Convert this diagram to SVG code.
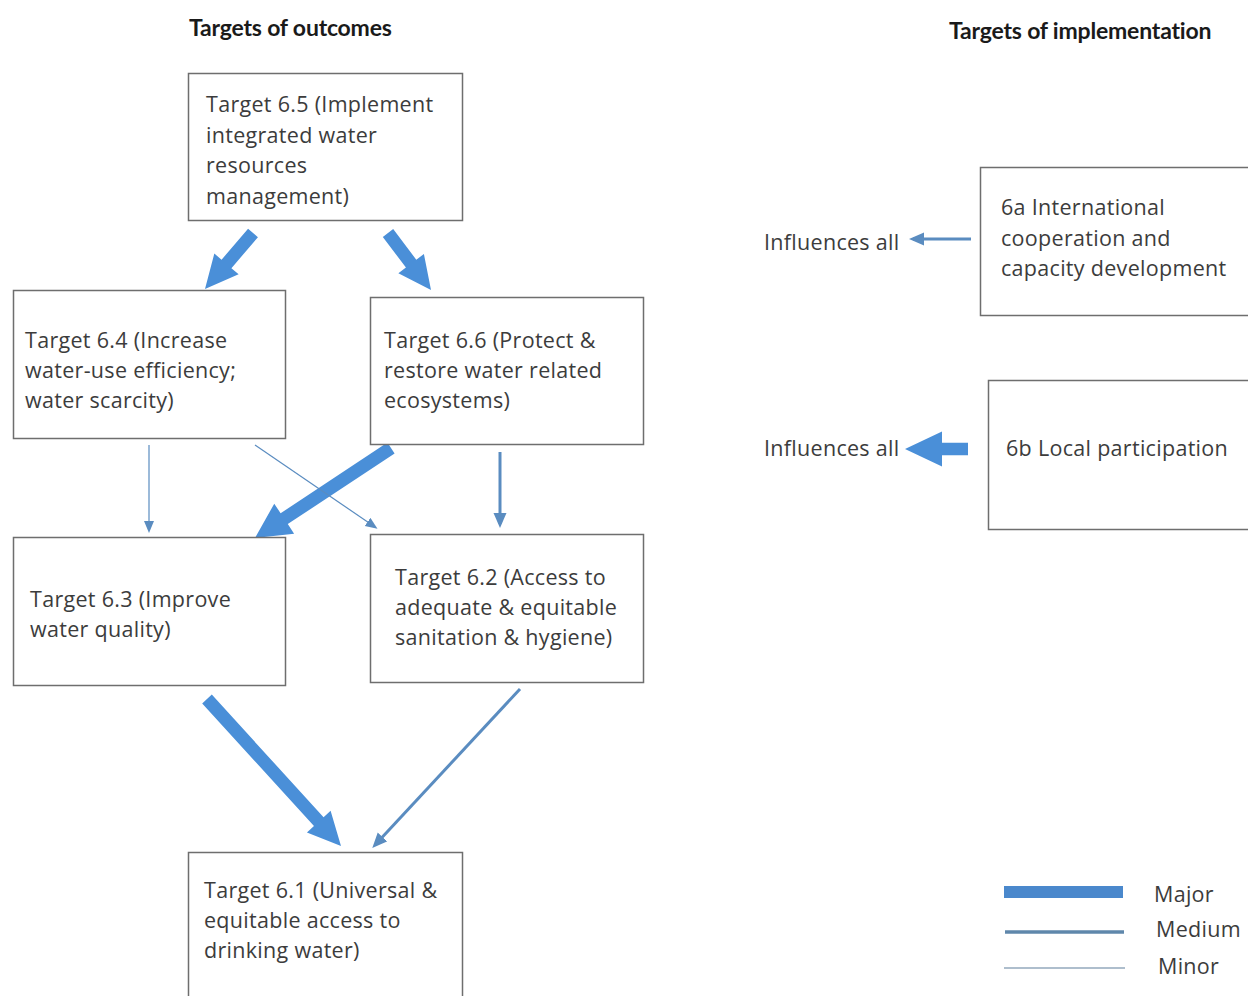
<svg xmlns="http://www.w3.org/2000/svg" width="1248" height="996" viewBox="0 0 1248 996">
<defs>
<style>
.box{fill:#fff;stroke:#6e6e6e;stroke-width:1.5}
.t{font-family:"Open Sans","Noto Sans",sans-serif;font-size:21.5px;letter-spacing:0.3px;fill:#3c3c3c}
.h{font-family:Lato,"Liberation Sans",sans-serif;font-size:23px;font-weight:bold;fill:#1a1a1a;letter-spacing:-0.2px}
.major{fill:#4a8fd8;stroke:none}
.medium{stroke:#5a8cc0;stroke-width:3;fill:none}
.minor{stroke:#5a8cc0;stroke-width:1.2;fill:none}
</style>
<marker id="medHead" markerUnits="userSpaceOnUse" markerWidth="16" markerHeight="14" refX="11" refY="6.5" orient="auto">
<path d="M0,0 L15,6.5 L0,13 z" fill="#5a8cc0"/>
</marker>
<marker id="minHead" markerUnits="userSpaceOnUse" markerWidth="13" markerHeight="11" refX="9" refY="5" orient="auto">
<path d="M0,0 L12,5 L0,10 z" fill="#5a8cc0"/>
</marker>
</defs>
<rect width="1248" height="996" fill="#fff"/>

<text class="h" x="189" y="36">Targets of outcomes</text>
<text class="h" x="949" y="39">Targets of implementation</text>

<g id="connectors">
<polygon class="major" points="257.93,237.23 231.41,268.18 238.63,274.36 205,289 214.33,253.54 221.55,259.72 248.07,228.77"/>
<polygon class="major" points="382.81,236.91 405.94,267.57 398.36,273.30 431,290 423.90,254.02 416.32,259.75 393.19,229.09"/>
<polygon class="major" points="394.59,453.42 287.78,524.11 294.12,533.70 255,538 274.26,503.68 280.60,513.27 387.41,442.58"/>
<polygon class="major" points="202.20,703.38 313.97,825.99 306.94,832.39 341,846 330.60,810.83 323.57,817.23 211.80,694.62"/>
<line class="minor" x1="149" y1="445" x2="149" y2="530" marker-end="url(#minHead)"/>
<line class="minor" x1="255" y1="445" x2="375" y2="527" marker-end="url(#minHead)"/>
<line class="medium" x1="500" y1="452" x2="500" y2="524" marker-end="url(#medHead)"/>
<line class="medium" x1="520" y1="689" x2="375" y2="845" marker-end="url(#medHead)"/>
<line class="medium" x1="971" y1="239" x2="913" y2="239" marker-end="url(#medHead)"/>
<polygon class="major" points="968,442.8 942,442.8 942,431.5 905,449 942,466.5 942,455.2 968,455.2"/>
</g>

<g id="n65">
<rect class="box" x="188.5" y="73.5" width="274" height="147"/>
<text class="t" x="206" y="112">Target 6.5 (Implement</text>
<text class="t" x="206" y="143">integrated water</text>
<text class="t" x="206" y="173">resources</text>
<text class="t" x="206" y="204">management)</text>
</g>
<g id="n64">
<rect class="box" x="13.5" y="290.5" width="272" height="148"/>
<text class="t" x="25" y="348">Target 6.4 (Increase</text>
<text class="t" x="25" y="378">water-use efficiency;</text>
<text class="t" x="25" y="408">water scarcity)</text>
</g>
<g id="n66">
<rect class="box" x="370.5" y="297.5" width="273" height="147"/>
<text class="t" x="384" y="348">Target 6.6 (Protect &amp;</text>
<text class="t" x="384" y="378">restore water related</text>
<text class="t" x="384" y="408">ecosystems)</text>
</g>
<g id="n63">
<rect class="box" x="13.5" y="537.5" width="272" height="148"/>
<text class="t" x="30" y="607">Target 6.3 (Improve</text>
<text class="t" x="30" y="637">water quality)</text>
</g>
<g id="n62">
<rect class="box" x="370.5" y="534.5" width="273" height="148"/>
<text class="t" x="395" y="585">Target 6.2 (Access to</text>
<text class="t" x="395" y="615">adequate &amp; equitable</text>
<text class="t" x="395" y="645">sanitation &amp; hygiene)</text>
</g>
<g id="n61">
<rect class="box" x="188.5" y="852.5" width="274" height="160"/>
<text class="t" x="204" y="898">Target 6.1 (Universal &amp;</text>
<text class="t" x="204" y="928">equitable access to</text>
<text class="t" x="204" y="958">drinking water)</text>
</g>
<g id="n6a">
<rect class="box" x="980.5" y="167.5" width="290" height="148"/>
<text class="t" x="1001" y="215">6a International</text>
<text class="t" x="1001" y="246">cooperation and</text>
<text class="t" x="1001" y="276">capacity development</text>
<text class="t" x="764" y="250">Influences all</text>
</g>
<g id="n6b">
<rect class="box" x="988.5" y="380.5" width="290" height="149"/>
<text class="t" x="1006" y="456">6b Local participation</text>
<text class="t" x="764" y="456">Influences all</text>
</g>
<g id="legend">
<rect x="1004" y="886" width="119" height="12" fill="#4a88cc"/>
<line x1="1005" y1="932" x2="1124" y2="932" stroke="#5f87ab" stroke-width="3.5"/>
<line x1="1004" y1="968" x2="1125" y2="968" stroke="#5f7f9c" stroke-width="1.2"/>
<text class="t" x="1154" y="902">Major</text>
<text class="t" x="1156" y="937">Medium</text>
<text class="t" x="1158" y="974">Minor</text>
</g>
</svg>
